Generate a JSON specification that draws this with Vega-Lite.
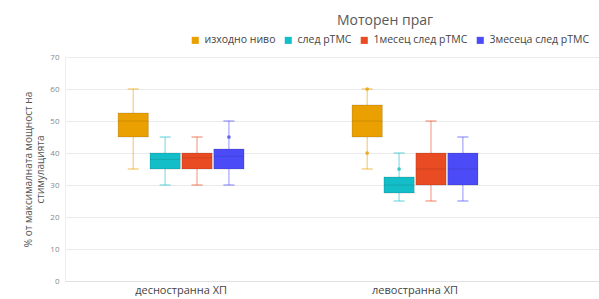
{
  "$schema": "https://vega.github.io/schema/vega-lite/v6.json",
  "autosize": "none",
  "width": 534,
  "height": 224,
  "padding": {"left": 65, "top": 57, "right": 0, "bottom": 18},
  "background": "white",
  "config": {
    "view": {"stroke": null},
    "font": "Open Sans",
    "axisY": {
      "labelOverlap": false,
      "titleFontSize": 10,
      "titleFontWeight": "normal",
      "titleColor": "#555555",
      "titlePadding": 4,
      "labelFontSize": 8,
      "labelColor": "#888888",
      "ticks": false,
      "labelPadding": 6,
      "domain": true,
      "domainColor": "#eeeeee",
      "grid": true,
      "gridColor": "#ebebeb"
    }
  },
  "title": {
    "text": "Моторен праг",
    "anchor": "middle",
    "frame": "group",
    "dx": 53,
    "offset": 7,
    "fontSize": 14,
    "fontWeight": "normal",
    "color": "#595959"
  },
  "data": {
    "values": [
      {"side": "десностранна ХП", "time": "изходно ниво", "lo": 35, "q1": 45, "med": 50, "q3": 52.5, "hi": 60},
      {"side": "десностранна ХП", "time": "след рТМС", "lo": 30, "q1": 35, "med": 38, "q3": 40, "hi": 45},
      {"side": "десностранна ХП", "time": "1месец след рТМС", "lo": 30, "q1": 35, "med": 38.5, "q3": 40, "hi": 45},
      {"side": "десностранна ХП", "time": "3месеца след рТМС", "lo": 30, "q1": 35, "med": 39, "q3": 41.25, "hi": 50},
      {"side": "левостранна ХП", "time": "изходно ниво", "lo": 35, "q1": 45, "med": 50, "q3": 55, "hi": 60},
      {"side": "левостранна ХП", "time": "след рТМС", "lo": 25, "q1": 27.5, "med": 30, "q3": 32.5, "hi": 40},
      {"side": "левостранна ХП", "time": "1месец след рТМС", "lo": 25, "q1": 30, "med": 35, "q3": 40, "hi": 50},
      {"side": "левостранна ХП", "time": "3месеца след рТМС", "lo": 25, "q1": 30, "med": 35, "q3": 40, "hi": 45}
    ]
  },
  "encoding": {
    "x": {
      "field": "side",
      "type": "nominal",
      "scale": {"domain": ["десностранна ХП", "левостранна ХП"], "paddingInner": 0.4615, "paddingOuter": 0.372, "align": 0.305},
      "axis": {
        "title": null,
        "labelAngle": 0,
        "labelFontSize": 11,
        "labelColor": "#444444",
        "ticks": false,
        "domain": true,
        "domainColor": "#e0e0e0",
        "labelPadding": 3
      }
    },
    "xOffset": {
      "field": "time",
      "type": "nominal",
      "sort": ["изходно ниво", "след рТМС", "1месец след рТМС", "3месеца след рТМС"],
      "scale": {"domain": ["изходно ниво", "след рТМС", "1месец след рТМС", "3месеца след рТМС"], "paddingInner": 0.05, "paddingOuter": 0}
    },
    "color": {
      "field": "time",
      "type": "nominal",
      "sort": ["изходно ниво", "след рТМС", "1месец след рТМС", "3месеца след рТМС"],
      "scale": {
        "domain": ["изходно ниво", "след рТМС", "1месец след рТМС", "3месеца след рТМС"],
        "range": ["#EAA000", "#14BEC8", "#E94B22", "#4B4BF7"]
      },
      "legend": {
        "title": null,
        "orient": "none",
        "direction": "horizontal",
        "legendX": 125,
        "legendY": -22,
        "symbolType": "square",
        "symbolSize": 50,
        "symbolStrokeWidth": 0,
        "symbolOpacity": 1,
        "labelFontSize": 10.5,
        "labelColor": "#444444",
        "columnPadding": 7,
        "symbolOffset": 0
      }
    }
  },
  "layer": [
    {
      "mark": {"type": "rule", "opacity": 0.5, "strokeWidth": 1.2},
      "encoding": {
        "y": {
          "field": "lo",
          "type": "quantitative",
          "scale": {"domain": [0, 70], "nice": false},
          "axis": {"values": [0, 10, 20, 30, 40, 50, 60, 70], "format": "d", "title": ["% от максималната мощност на", "стимулацията"]}
        },
        "y2": {"field": "hi"}
      }
    },
    {
      "mark": {"type": "tick", "opacity": 0.55, "size": 11, "thickness": 1.3},
      "encoding": {"y": {"field": "lo", "type": "quantitative", "axis": {"values": [0, 10, 20, 30, 40, 50, 60, 70], "format": "d", "title": ["% от максималната мощност на", "стимулацията"]}}}
    },
    {
      "mark": {"type": "tick", "opacity": 0.55, "size": 11, "thickness": 1.3},
      "encoding": {"y": {"field": "hi", "type": "quantitative", "axis": {"values": [0, 10, 20, 30, 40, 50, 60, 70], "format": "d", "title": ["% от максималната мощност на", "стимулацията"]}}}
    },
    {
      "mark": {"type": "bar", "stroke": "#00000022", "strokeWidth": 1},
      "encoding": {
        "y": {"field": "q1", "type": "quantitative", "axis": {"values": [0, 10, 20, 30, 40, 50, 60, 70], "format": "d", "title": ["% от максималната мощност на", "стимулацията"]}},
        "y2": {"field": "q3"}
      }
    },
    {
      "mark": {"type": "tick", "thickness": 1},
      "encoding": {
        "y": {"field": "med", "type": "quantitative", "axis": {"values": [0, 10, 20, 30, 40, 50, 60, 70], "format": "d", "title": ["% от максималната мощност на", "стимулацията"]}},
        "color": {"value": "#00000028"}
      }
    },
    {
      "data": {
        "values": [
          {"side": "десностранна ХП", "time": "3месеца след рТМС", "v": 45},
          {"side": "левостранна ХП", "time": "изходно ниво", "v": 40},
          {"side": "левостранна ХП", "time": "изходно ниво", "v": 60},
          {"side": "левостранна ХП", "time": "след рТМС", "v": 35}
        ]
      },
      "mark": {"type": "point", "filled": true, "size": 14, "opacity": 0.8},
      "encoding": {
        "y": {"field": "v", "type": "quantitative", "axis": {"values": [0, 10, 20, 30, 40, 50, 60, 70], "format": "d", "title": ["% от максималната мощност на", "стимулацията"]}}
      }
    }
  ]
}
